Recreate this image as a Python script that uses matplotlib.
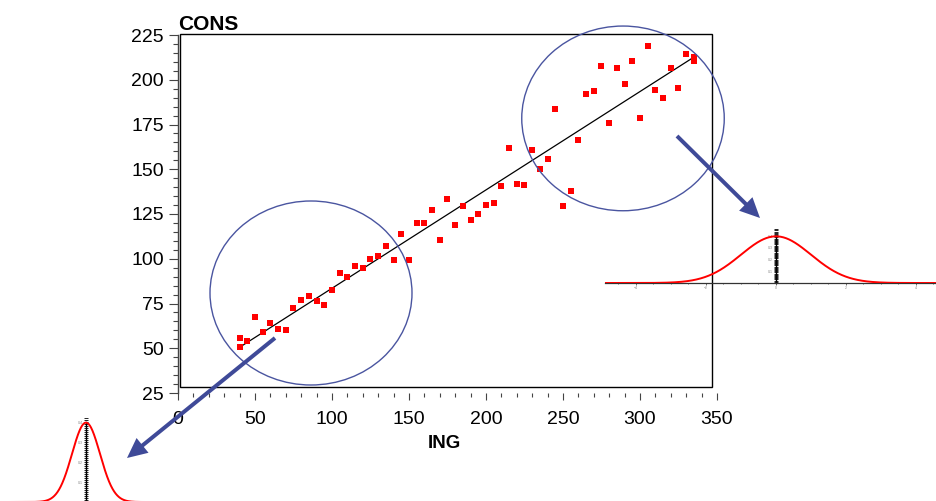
import numpy as np
import matplotlib
matplotlib.use('Agg')
import matplotlib.pyplot as plt
from matplotlib.patches import Ellipse, Rectangle, FancyArrow
from matplotlib.ticker import MultipleLocator

# ---------------- data ----------------
ing = [40, 40, 45, 50, 55, 60, 65, 70, 75, 80, 85, 90, 95, 100, 105, 110, 115, 120,
       125, 130, 135, 140, 145, 150, 155, 160, 165, 170, 175, 180, 185, 190, 195,
       200, 205, 210, 215, 220, 225, 230, 235, 240, 245, 250, 255, 260, 265, 270,
       275, 280, 285, 290, 295, 300, 305, 310, 315, 320, 325, 330, 335, 335]
cons = [55.6, 50.5, 53.9, 67.3, 58.9, 63.9, 60.6, 60.0, 72.3, 76.8, 79.0, 76.2, 74.0,
        82.4, 91.9, 89.6, 95.8, 94.7, 99.7, 101.4, 107.0, 99.1, 113.7, 99.1, 119.8,
        119.8, 127.1, 110.3, 133.2, 118.7, 129.3, 121.5, 124.8, 129.9, 131.0, 140.5,
        161.7, 141.6, 141.0, 160.6, 150.0, 155.5, 183.5, 129.3, 137.7, 166.2, 191.9,
        193.5, 207.5, 175.7, 206.3, 197.4, 210.2, 178.5, 218.7, 194.1, 189.6, 206.3,
        195.2, 214.2, 212.5, 210.6]
x_ticks = [0, 50, 100, 150, 200, 250, 300, 350]
y_ticks = [25, 50, 75, 100, 125, 150, 175, 200, 225]
x_label = 'ING'
y_label = 'CONS'
bell_x_ticks = [-4, -2, 0, 2, 4]
bell_y_ticks = [0.1, 0.2, 0.3, 0.4]

plt.rcParams['font.family'] = ['Liberation Sans', 'DejaVu Sans']

W, H = 937, 501
fig = plt.figure(figsize=(W / 100, H / 100), dpi=100)


def px_axes(x0, y0, x1, y1, **kw):
    return fig.add_axes([x0 / W, 1 - y1 / H, (x1 - x0) / W, (y1 - y0) / H], **kw)


# ---------------- main axes ----------------
ax = px_axes(178, 35, 717, 393, zorder=1)
ax.set_xlim(0, 350)
ax.set_ylim(25, 225)
ax.patch.set_alpha(0)
for s in ['top', 'right', 'bottom']:
    ax.spines[s].set_visible(False)
ax.spines['left'].set_linewidth(1.0)
ax.spines['left'].set_color('#444444')
ax.set_xticks(x_ticks)
ax.set_yticks(y_ticks)
ax.xaxis.set_minor_locator(MultipleLocator(10))
ax.yaxis.set_minor_locator(MultipleLocator(5))
ax.tick_params(axis='x', which='major', length=5, width=0.8, pad=8, labelsize=14,
               color='#444444')
ax.tick_params(axis='x', which='minor', length=2.8, width=0.8, color='#444444')
ax.tick_params(axis='y', which='major', length=6.5, width=0.8, pad=3.5, labelsize=14,
               color='#444444')
ax.tick_params(axis='y', which='minor', length=3.6, width=0.8, color='#444444')

ax.scatter(ing, cons, marker='s', s=14, color='#ff0000', linewidths=0, zorder=3)
coef = np.polyfit(ing, cons, 1)
xx = np.array([min(ing), max(ing)])
ax.plot(xx, np.polyval(coef, xx), color='black', lw=0.9, zorder=2)

fig.text(178 / W, 1 - 30 / H, y_label, fontsize=15, fontweight='bold', va='baseline',
         ha='left')
fig.text(444.5 / W, 1 - 448 / H, x_label, fontsize=13.5, fontweight='bold',
         va='baseline', ha='center')

# ---------------- overlay (frame, circles, arrows) ----------------
ov = fig.add_axes([0, 0, 1, 1], zorder=3)
ov.set_xlim(0, W)
ov.set_ylim(H, 0)
ov.axis('off')
ov.patch.set_alpha(0)

ov.add_patch(Rectangle((180, 33.5), 532.5, 353.5, fill=False, lw=1.0, ec='black'))
circ_col = '#4a55a0'
ov.add_patch(Ellipse((311, 293), 202, 184, fill=False, lw=1.0, ec=circ_col))
ov.add_patch(Ellipse((623, 118.4), 202.5, 184.7, fill=False, lw=1.0, ec=circ_col))

arr_col = '#3f4a98'
for (x0, y0, x1, y1) in [(677, 136, 760, 218), (275, 338, 127, 458)]:
    ov.add_patch(FancyArrow(x0, y0, x1 - x0, y1 - y0, width=4, head_width=19,
                            head_length=20, length_includes_head=True,
                            color=arr_col, lw=0))


# ---------------- bell-curve insets ----------------
def bell(x0, y0, x1, y1, xlim, ylim, xlabels=True):
    b = px_axes(x0, y0, x1, y1, zorder=4)
    b.patch.set_alpha(0)
    b.set_xlim(*xlim)
    b.set_ylim(*ylim)
    z = np.linspace(xlim[0], xlim[1], 600)
    b.plot(z, np.exp(-z ** 2 / 2) / np.sqrt(2 * np.pi), color='#ff0000', lw=1.4,
           zorder=3)
    for s in ['top', 'right']:
        b.spines[s].set_visible(False)
    b.spines['left'].set_position(('data', 0))
    b.spines['left'].set_bounds(0, 0.4)
    b.spines['left'].set_linewidth(1.0)
    b.spines['bottom'].set_linewidth(0.9)
    b.spines['bottom'].set_color('#333333')
    b.set_xticks(bell_x_ticks)
    b.set_yticks(bell_y_ticks)
    b.xaxis.set_minor_locator(MultipleLocator(0.5))
    b.yaxis.set_minor_locator(MultipleLocator(0.01))
    b.tick_params(axis='both', which='both', labelsize=2.5, labelcolor='#888888',
                  width=0.6, pad=1)
    b.tick_params(axis='x', which='major', length=1.5, color='#555555')
    b.tick_params(axis='x', which='minor', length=1.0, color='#555555')
    b.tick_params(axis='y', which='both', direction='inout', length=3, color='black')
    if not xlabels:
        b.tick_params(axis='x', which='both', labelbottom=False)
    return b


bell(605, 229, 937, 283, (-(776 - 605) / 35, (937 - 776) / 35), (0, 54 / 117))
bell(0, 417, 160, 502, (-86 / 14, 74 / 14), (0, 85 / 199), xlabels=False)

fig.savefig('out.png', dpi=100)
